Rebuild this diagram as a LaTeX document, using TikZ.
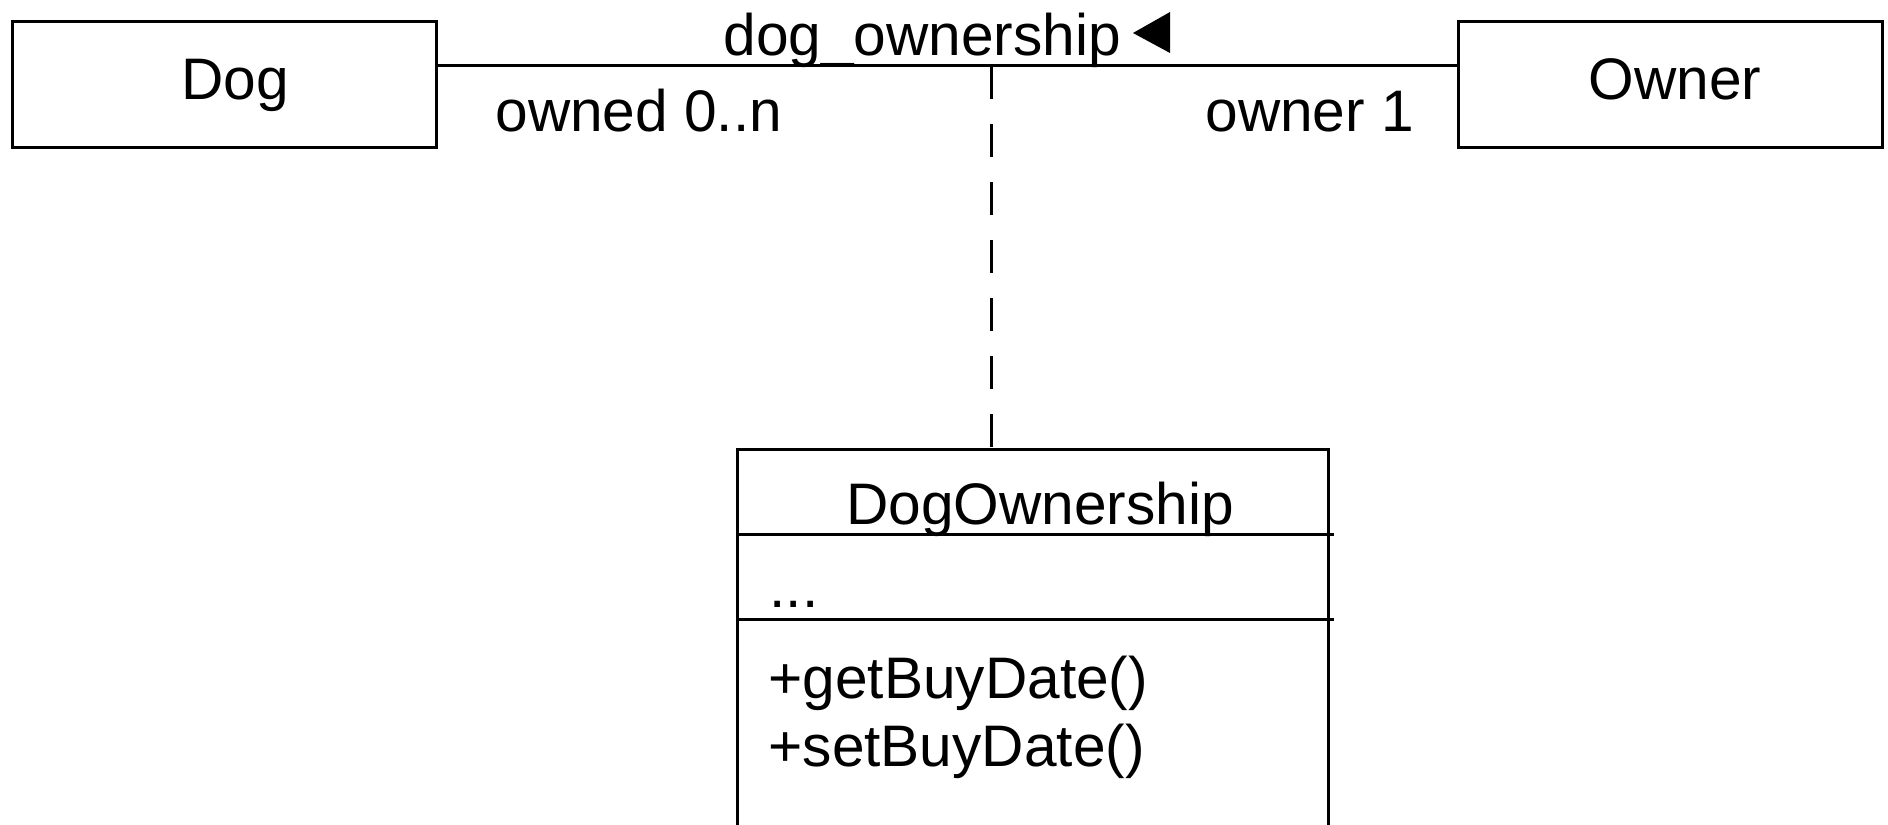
\documentclass[tikz,border=0pt]{standalone}
\usepackage{fontspec}
\setmainfont{Liberation Sans}
\usetikzlibrary{calc}
\tikzset{classbox/.style = {draw, line width = 1.5pt, inner sep = 0pt},
         umltext/.style = {inner sep = 0pt, anchor = base west}}

\begin{document}
\begin{tikzpicture}[x = 0.5pt, y = -0.5pt, line width = 1.5pt,
                    every node/.style = {font = \fontsize{29.3}{35}\selectfont}]
			\useasboundingbox (0,0) rectangle (1888,824);
			\clip (0,0) rectangle (1888,824);
			\node (dog) at (224,84.5) [classbox, minimum width = 212pt, minimum height = 62.5pt] {};
			\node (owner) at (1670,84.5) [classbox, minimum width = 212pt, minimum height = 62.5pt] {};
			\node (assoc) at (1032.5,448) [classbox, anchor = north, minimum width = 295.5pt, minimum height = 290pt] {};
			\node (dogname) at (235,99) [inner sep = 0pt, anchor = base] {Dog};
			\node (ownername) at (1675,99) [inner sep = 0pt, anchor = base] {Owner};
			\node (assocname) at (1040,524) [inner sep = 0pt, anchor = base] {DogOwnership};
			\node (relname) at (722,56) [umltext] {dog\_ownership};
			\node (dogrole) at (494,132) [umltext] {owned 0..n};
			\node (ownerrole) at (1204,132) [umltext] {owner 1};
			\node (attrs) at (768,607) [umltext] {...};
			\node (getter) at (767,698) [umltext] {+getBuyDate()};
			\node (setter) at (767,766) [umltext] {+setBuyDate()};
			\coordinate (mid) at (991,66);
			\coordinate (sepa) at (1334,534);
			\coordinate (sepb) at (1334,619);
			\draw (dog.east |- mid) edge (owner.west |- mid);
			\draw [dash pattern = on 16.5pt off 12.5pt] (mid) -- (mid |- assoc.north);
			\draw (assoc.west |- sepa) -- (sepa);
			\draw (assoc.west |- sepb) -- (sepb);
			\fill (1133,33) -- (1170,12) -- (1170,53) -- cycle;
			\end{tikzpicture}
\end{document}
